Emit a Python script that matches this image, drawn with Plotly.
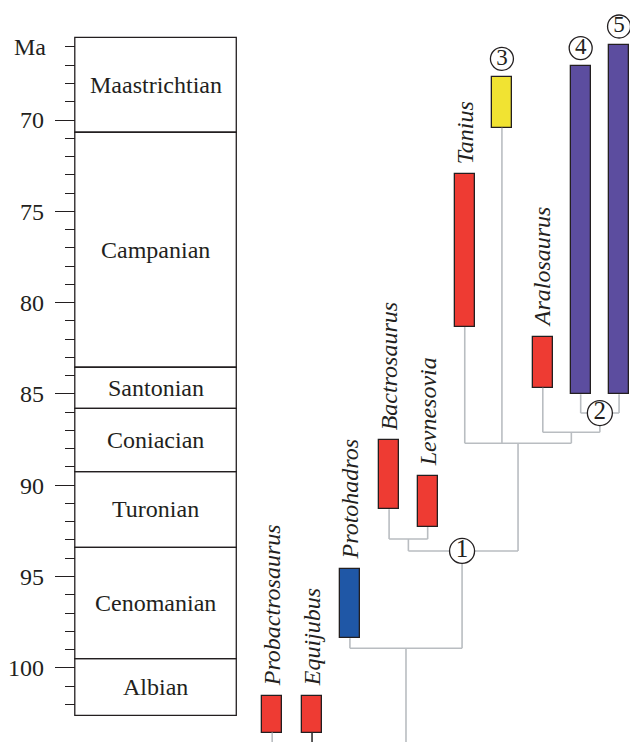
import plotly.graph_objects as go

# ---- data ----
stages = ["Maastrichtian", "Campanian", "Santonian", "Coniacian", "Turonian", "Cenomanian", "Albian"]
stage_top = [65.47, 70.67, 83.54, 85.79, 89.26, 93.40, 99.50]
stage_base = [70.67, 83.54, 85.79, 89.26, 93.40, 99.50, 102.60]

major_ticks = [70, 75, 80, 85, 90, 95, 100]
major_labels = ["70", "75", "80", "85", "90", "95", "100"]
minor_ticks = list(range(66, 103))

taxa = ["Probactrosaurus", "Equijubus", "Protohadros", "Bactrosaurus", "Levnesovia",
        "Tanius", "3", "Aralosaurus", "4", "5"]
range_top = [101.55, 101.55, 94.59, 87.54, 89.50, 72.96, 67.65, 81.88, 67.06, 65.88]
range_base = [103.55, 103.55, 98.38, 91.32, 92.29, 81.34, 70.42, 84.66, 85.02, 85.02]
taxon_colors = ["#ee3b33", "#ee3b33", "#1f57a6", "#ee3b33", "#ee3b33",
                "#ee3b33", "#f1e332", "#ee3b33", "#5c4d9f", "#5c4d9f"]
labelled = [True, True, True, True, True, True, False, True, False, False]

# tree: internal nodes (children, age in Ma)
node_ages = {"BL": 92.95, "N1": 93.60, "N0": 98.93, "N2": 86.05, "AR": 87.10, "TR": 87.70}
node_children = {
    "BL": ["Bactrosaurus", "Levnesovia"],
    "N2": ["4", "5"],
    "AR": ["Aralosaurus", "N2"],
    "TR": ["Tanius", "3", "AR"],
    "N1": ["BL", "TR"],
    "N0": ["Protohadros", "N1"],
}
node_numbers = {"N1": "1", "N2": "2"}

# ---- layout constants ----
PAGE_MARGIN = 8           # default body margin of the HTML page
W, H = 638 - PAGE_MARGIN, 742 - PAGE_MARGIN
PX_PER_MA = 18.26
REF_Y70 = 120             # pixel row of 70 Ma in the full window
Y_RANGE = [70 + (742 - REF_Y70) / PX_PER_MA, 70 - (REF_Y70 - PAGE_MARGIN) / PX_PER_MA]
X_RANGE = [PAGE_MARGIN, 638]
COL_X0, COL_X1 = 73, 235
taxon_x = [271, 311, 349, 388.3, 427, 464.2, 501.5, 542.5, 580.5, 619]
BAR_W = 20
LINE_GREY = "#b9bdc1"
INK = "#231f20"
SERIF = "Liberation Serif"
FS = 24
BOTTOM = 106

xpos = dict(zip(taxa, taxon_x))
age = dict(zip(taxa, range_base))
order = ["BL", "N2", "AR", "TR", "N1", "N0"]
for n in order:
    ch = node_children[n]
    if n == "N1":
        xpos[n] = 461.5
    else:
        xpos[n] = (min(xpos[c] for c in ch) + max(xpos[c] for c in ch)) / 2
    age[n] = node_ages[n]

lx, ly = [], []
for n in order:
    ch = node_children[n]
    xs = [xpos[c] for c in ch]
    lx += [min(xs), max(xs), None]
    ly += [age[n], age[n], None]
    for c in ch:
        lx += [xpos[c], xpos[c], None]
        ly += [age[c], age[n], None]
# root stem and basal taxa stems
lx += [xpos["N0"], xpos["N0"], None, xpos["Probactrosaurus"], xpos["Probactrosaurus"], None]
ly += [age["N0"], BOTTOM, None, age["Probactrosaurus"], BOTTOM, None]

fig = go.Figure()

fig.add_trace(go.Scatter(x=lx, y=ly, mode="lines", line=dict(color=LINE_GREY, width=1.6),
                         hoverinfo="skip", showlegend=False))
fig.add_trace(go.Scatter(x=[xpos["Equijubus"]] * 2, y=[age["Equijubus"], BOTTOM], mode="lines",
                         line=dict(color="#333333", width=1.6), hoverinfo="skip", showlegend=False))

fig.add_trace(go.Bar(x=taxon_x, y=[b - t for t, b in zip(range_top, range_base)], base=range_top,
                     width=BAR_W, marker=dict(color=taxon_colors, line=dict(color=INK, width=1.3)),
                     showlegend=False, hoverinfo="skip"))

# node circles (numbered internal nodes)
fig.add_trace(go.Scatter(x=[xpos[n] for n in node_numbers], y=[age[n] for n in node_numbers],
                         mode="markers+text", text=list(node_numbers.values()),
                         textposition="middle center",
                         marker=dict(size=25, color="white", line=dict(color=INK, width=1.3)),
                         textfont=dict(family=SERIF, size=25, color=INK),
                         hoverinfo="skip", showlegend=False, cliponaxis=False))
# numbered terminal taxa circles
fig.add_trace(go.Scatter(x=[xpos[t] for t, l in zip(taxa, labelled) if not l],
                         y=[t - 1.0 for t, l in zip(range_top, labelled) if not l],
                         mode="markers+text", text=[t for t, l in zip(taxa, labelled) if not l],
                         textposition="middle center",
                         marker=dict(size=23, color="white", line=dict(color=INK, width=1.3)),
                         textfont=dict(family=SERIF, size=23, color=INK),
                         hoverinfo="skip", showlegend=False, cliponaxis=False))

shapes = []
annotations = []
for name, t, b in zip(stages, stage_top, stage_base):
    shapes.append(dict(type="rect", xref="x", yref="y", x0=COL_X0, x1=COL_X1, y0=t, y1=b,
                       line=dict(color=INK, width=1.3), fillcolor="rgba(0,0,0,0)", layer="below"))
    annotations.append(dict(x=(COL_X0 + COL_X1) / 2, y=(t + b) / 2, xref="x", yref="y", text=name,
                            showarrow=False, font=dict(family=SERIF, size=FS, color=INK)))

for name, x, t, l in zip(taxa, taxon_x, range_top, labelled):
    if l:
        annotations.append(dict(x=x, y=t, xref="x", yref="y", text="<i>" + name + "</i>",
                                textangle=-90, showarrow=False, yanchor="bottom", xanchor="center",
                                yshift=8, font=dict(family=SERIF, size=FS, color=INK)))

annotations.append(dict(x=46, y=66, xref="x", yref="y", text="Ma", showarrow=False,
                        xanchor="right", font=dict(family=SERIF, size=FS, color=INK)))

fig.update_layout(
    width=W, height=H, margin=dict(l=0, r=0, t=0, b=0),
    plot_bgcolor="white", paper_bgcolor="white",
    xaxis=dict(range=X_RANGE, visible=False, fixedrange=True),
    yaxis=dict(range=Y_RANGE, anchor="free", position=(COL_X0 - PAGE_MARGIN) / W, showgrid=False,
               zeroline=False, showline=False, tickmode="array", tickvals=major_ticks,
               ticktext=major_labels, ticks="outside", ticklen=20, tickwidth=1.3, tickcolor=INK,
               ticklabelstandoff=6,
               tickfont=dict(family=SERIF, size=FS, color=INK),
               minor=dict(tickmode="array", tickvals=minor_ticks, ticks="outside", ticklen=10,
                          tickwidth=1.3, tickcolor=INK)),
    shapes=shapes, annotations=annotations, bargap=0,
)

fig.write_html("out.html")
